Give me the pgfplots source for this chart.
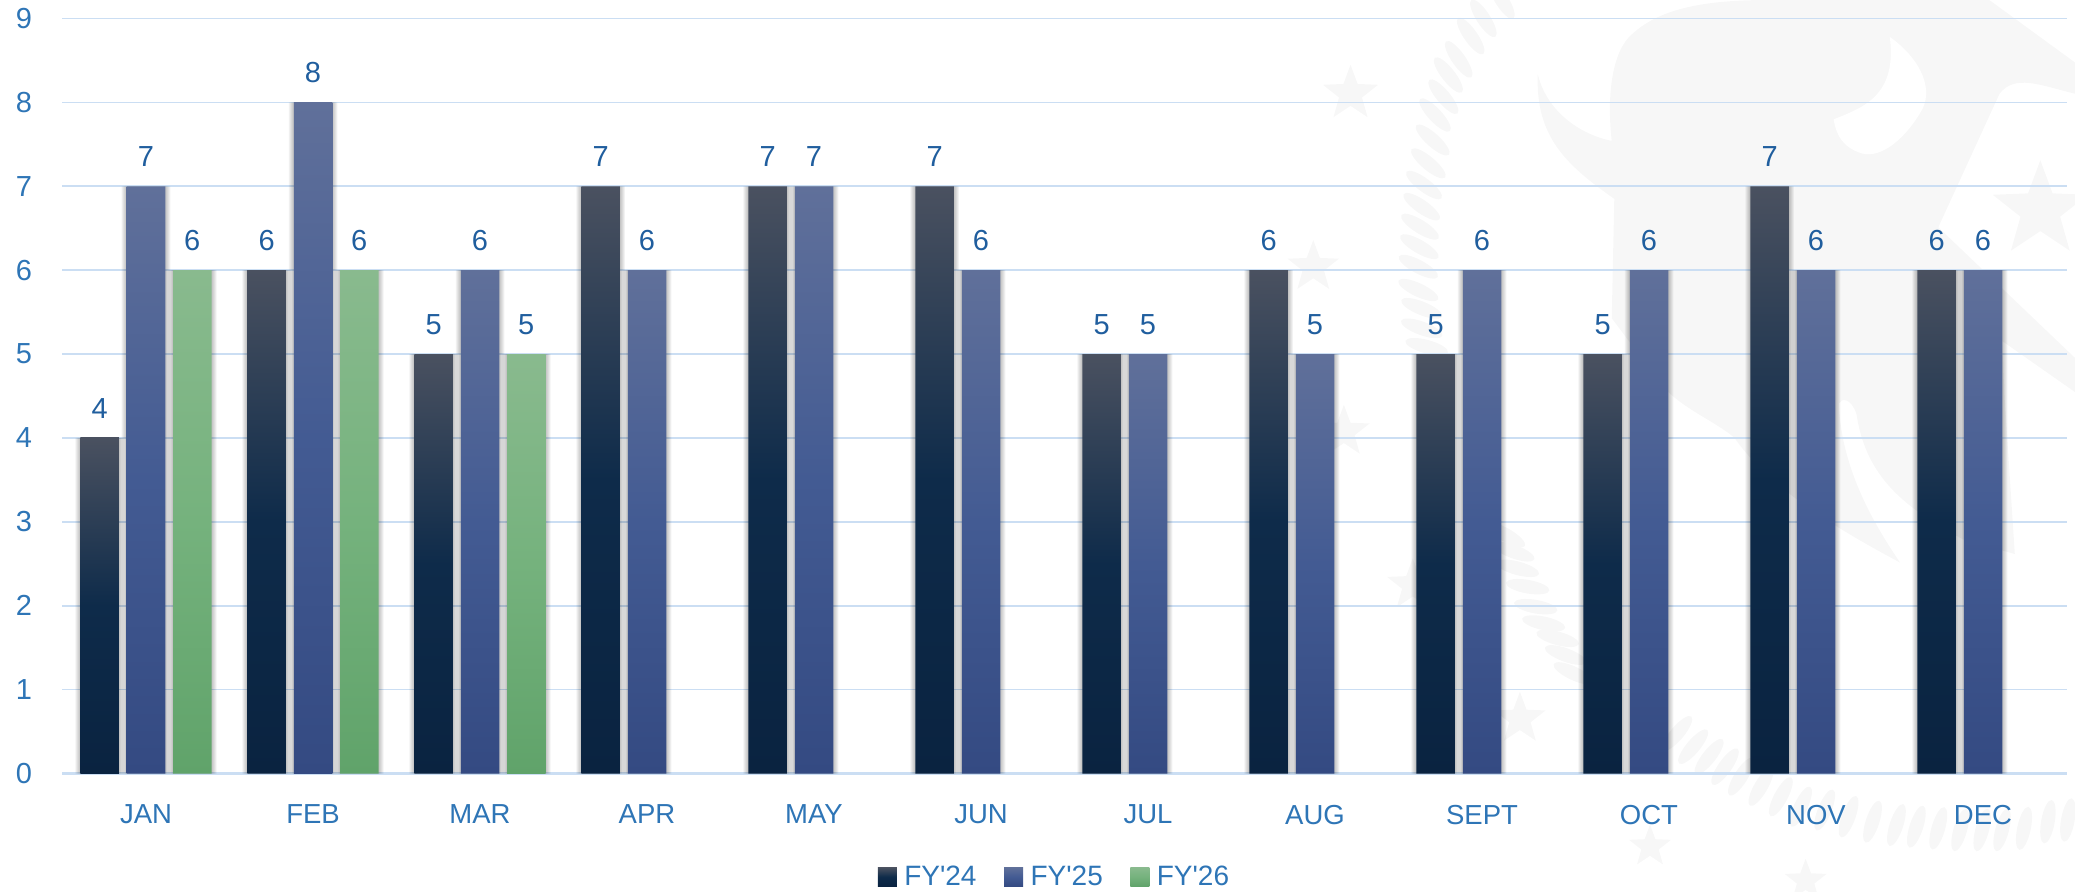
\documentclass[border=0pt]{standalone}
\usepackage{fontspec}
\setmainfont{Liberation Sans}
\usepackage{pgfplots}
\usepackage{pgfplotstable}
\pgfplotsset{compat=1.18}
\usetikzlibrary{shapes.geometric}
\definecolor{tickblue}{HTML}{2E75B6}
\definecolor{lblblue}{HTML}{205E9E}
\definecolor{gridblue}{HTML}{CBDEF3}
\definecolor{wm}{HTML}{F7F7F7}
\definecolor{aB}{HTML}{0A2340}\definecolor{aM}{HTML}{0E2B4A}\definecolor{aT}{HTML}{4A5160}
\definecolor{bB}{HTML}{344A82}\definecolor{bM}{HTML}{435B93}\definecolor{bT}{HTML}{60709A}
\definecolor{cB}{HTML}{60A36A}\definecolor{cM}{HTML}{75B27D}\definecolor{cT}{HTML}{89BA8E}
\pgfdeclareverticalshading{fya}{100bp}{color(0bp)=(aB);color(25bp)=(aB);color(50bp)=(aM);color(75bp)=(aT);color(100bp)=(aT)}
\pgfdeclareverticalshading{fyb}{100bp}{color(0bp)=(bB);color(25bp)=(bB);color(50bp)=(bM);color(75bp)=(bT);color(100bp)=(bT)}
\pgfdeclareverticalshading{fyc}{100bp}{color(0bp)=(cB);color(25bp)=(cB);color(50bp)=(cM);color(75bp)=(cT);color(100bp)=(cT)}
\pgfplotstableread{
x y
0 4
1 6
2 5
3 7
4 7
5 7
6 5
7 6
8 5
9 5
10 7
11 6
}\fya
\pgfplotstableread{
x y
0 7
1 8
2 6
3 6
4 7
5 6
6 5
7 5
8 6
9 6
10 6
11 6
}\fyb
\pgfplotstableread{
x y
0 6
1 6
2 5
}\fyc
\newcommand{\lgsq}[1]{\shade[draw=none,shading=#1] (0pt,-4.75pt) rectangle (9.5pt,4.75pt);}
\begin{document}
\begin{tikzpicture}
\path[use as bounding box] (0,0) rectangle (1037.5pt,445.5pt);
% faint watermark behind the chart
\begin{scope}
\clip (0,0) rectangle (1037.5pt,445.5pt);
\begin{scope}[shift={(637.5pt,445.5pt)},x=0.2551pt,y=-0.2841pt]
\fill[wm] (515,130) .. controls (530,190) and (590,235) .. (660,248)
  .. controls (650,170) and (660,90) .. (700,60) .. controls (760,10) and (860,0) .. (970,0)
  -- (1400,0) -- (1568,110) -- (1568,165) .. controls (1500,150) and (1450,130) .. (1420,165)
  -- (1300,400) -- (1568,630) -- (1568,690) -- (1425,600) -- (1430,700) -- (1450,975)
  -- (1350,950) .. controls (1250,900) and (1160,850) .. (1140,730) .. controls (1130,700) and (1110,700) .. (1105,710)
  .. controls (1110,830) and (1180,930) .. (1225,990)
  .. controls (1100,930) and (970,860) .. (900,770)
  .. controls (860,740) and (800,720) .. (760,680)
  -- (660,560) -- (665,350) .. controls (570,290) and (510,240) .. (515,130) -- cycle;
\fill[white] (1205,65) .. controls (1260,100) and (1290,150) .. (1270,190)
  .. controls (1240,240) and (1190,280) .. (1150,270) .. controls (1115,260) and (1100,240) .. (1095,210)
  .. controls (1150,190) and (1220,170) .. (1205,65) -- cycle;
\foreach \a/\b/\s in {148/165/29,75/470/27,135/760/27,270/1030/27,480/1265/27,735/1490/22,1040/1550/22,1500/370/50}
  \node[wm,fill=wm,star,star points=5,star point ratio=2.4,inner sep=0pt,minimum size=\s pt] at (\a,\b) {};
\end{scope}
% upper wreath leaves
\begin{scope}[shift={(675pt,445.5pt)},x=0.16667pt,y=-0.16667pt]
\foreach \a/\b/\r in {455/0/-58,400/55/-57,362/108/-55,326/178/-55,295/225/-52,280/290/-50,255/345/-47,248/420/-42,235/490/-40,222/555/-37,215/620/-35,210/680/-32,208/740/-30,205/800/-28,205/870/-25,215/925/-22,215/985/-20,230/1040/-15}
  \fill[wm,rotate around={\r:(\a,\b)}] (\a,\b) ellipse (11pt and 3.4pt);
\end{scope}
% lower wreath leaves
\begin{scope}[shift={(725pt,195.5pt)},x=0.1993pt,y=-0.16667pt]
\foreach \a/\b/\r in {140/105/-30,160/155/-20,170/205/-15,195/260/-10,215/320/-10,235/370/-12,270/415/-15,290/465/-20,310/520/-25,570/700/50,610/740/50,650/770/52,690/800/55,730/830/58,780/860/60,830/890/62,880/920/65,940/930/68,1000/950/70,1060/965/72,1120/975/72,1170/980/72,1225/985/74,1280/990/74,1335/990/75,1385/990/75,1440/985/78,1500/965/80,1550/960/80}
  \fill[wm,rotate around={\r:(\a,\b)}] (\a,\b) ellipse (11pt and 3.4pt);
\end{scope}
\end{scope}
\begin{axis}[
  at={(31.25pt,58.75pt)},anchor=south west,
  scale only axis,width=1002pt,height=377.5pt,
  xmin=-0.5,xmax=11.5,ymin=0,ymax=9,
  xtick={0,...,11},
  xticklabels={JAN,FEB,MAR,APR,MAY,JUN,JUL,AUG,SEPT,OCT,NOV,DEC},
  ytick={0,...,9},
  clip=false,
  axis x line*=bottom,axis y line*=left,
  x axis line style={gridblue,line width=1.2pt,-},
  y axis line style={draw=none},
  major tick length=0pt,
  ymajorgrids,
  grid style={gridblue,line width=0.8pt},
  /pgf/number format/assume math mode=true,
  tick label style={color=tickblue},
  xticklabel style={font=\fontsize{13.75}{13.75}\selectfont,inner sep=0pt,yshift=-15.5pt},
  yticklabel style={font=\fontsize{14.5}{14.5}\selectfont,inner sep=0pt,xshift=-15pt},
  legend style={at={(0.4955,-0.137)},anchor=center,draw=none,fill=none,legend columns=3,
    font=\fontsize{14}{14}\selectfont,text=tickblue,inner sep=0pt,
    /tikz/every even column/.append style={column sep=11.8pt},
    /tikz/every odd column/.append style={column sep=1.7pt}},
  legend cell align=left,
  every node near coord/.append style={font=\fontsize{14.5}{14.5}\selectfont,color=lblblue,anchor=base,inner sep=0pt,yshift=9.75pt},
]
\addlegendimage{legend image code/.code={\lgsq{fya}}}
\addlegendimage{legend image code/.code={\lgsq{fyb}}}
\addlegendimage{legend image code/.code={\lgsq{fyc}}}
% soft shadows behind the bars
\pgfplotsinvokeforeach{1,2,3,4,5}{
  \addplot[forget plot,ybar,bar width=19.25pt+#1pt,bar shift=-23.15pt,draw=none,fill=black,fill opacity=0.05] table[x=x,y=y] {\fya};
  \addplot[forget plot,ybar,bar width=19.25pt+#1pt,bar shift=0pt,draw=none,fill=black,fill opacity=0.05] table[x=x,y=y] {\fyb};
  \addplot[forget plot,ybar,bar width=19.25pt+#1pt,bar shift=23.15pt,draw=none,fill=black,fill opacity=0.05] table[x=x,y=y] {\fyc};
}
% one plot per bar height, so that each bar carries its own full gradient
\pgfplotsinvokeforeach{4,5,6,7}{
  \addplot[forget plot,ybar,bar width=19.25pt,bar shift=-23.15pt,draw=none,shading=fya,nodes near coords,
    every node near coord/.append style={xshift=-23.15pt},
    restrict y to domain=#1:#1.1] table[x=x,y=y] {\fya};
}
\pgfplotsinvokeforeach{5,6,7,8}{
  \addplot[forget plot,ybar,bar width=19.25pt,bar shift=0pt,draw=none,shading=fyb,nodes near coords,
    restrict y to domain=#1:#1.1] table[x=x,y=y] {\fyb};
}
\pgfplotsinvokeforeach{5,6}{
  \addplot[forget plot,ybar,bar width=19.25pt,bar shift=23.15pt,draw=none,shading=fyc,nodes near coords,
    every node near coord/.append style={xshift=23.15pt},
    restrict y to domain=#1:#1.1] table[x=x,y=y] {\fyc};
}
\legend{FY\textquotesingle 24,FY\textquotesingle 25,FY\textquotesingle 26}
\end{axis}
\end{tikzpicture}
\end{document}
